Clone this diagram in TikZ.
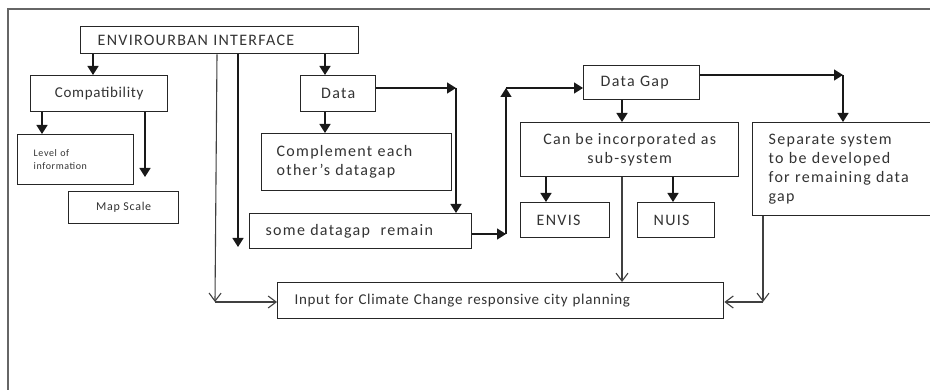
\documentclass[tikz,border=0pt]{standalone}
\usepackage{fontspec}
\setmainfont{Carlito}[LetterSpace=8]
\usetikzlibrary{arrows.meta,calc}
\begin{document}
\begin{tikzpicture}[x=1pt,y=-1pt,
  box/.style={draw=black!85, line width=1.4pt, anchor=north west, inner ysep=0pt,
              font=\fontsize{16}{19}\selectfont, text=black!80},
  lbox/.style n args={4}{box, minimum width=#1pt, minimum height=#2pt, inner xsep=#3pt, text width=#4pt, align=left},
  cbox/.style n args={2}{box, minimum width=#1pt, minimum height=#2pt, align=center},
  tight/.style={font=\fontsize{15}{19}\selectfont\addfontfeature{LetterSpace=4.5}},
  small/.style={font=\fontsize{#1}{13}\selectfont\addfontfeature{LetterSpace=6}},
  arr/.style={draw=black!90, line width=1.4pt, -{Triangle[width=11pt,length=9pt]}},
  thin/.style={draw=black!75, line width=1.1pt, -{Straight Barb[width=12pt,length=8pt]}},
  frame/.style={draw=black!60, line width=2pt},
]
\clip (0,0) rectangle (930,390);
\fill[white] (0,0) rectangle (930,390);

% outer frame (top and left edges)
\draw[frame] (8,390) -- (8,9) -- (932,9);

% boxes
\node[lbox={278}{27}{17}{244}] (env) at (80,26) {ENVIROURBAN INTERFACE};
\node[cbox={137}{36}, tight] (comp) at (30,75) {Compatibility};
\node[cbox={75}{36}] (data) at (300,75) {Data};
\node[lbox={116}{50}{16}{84}, small=10] (level) at (17,134) {Level of\\information};
\node[cbox={110}{32}, small=12] (map) at (68,191) {Map Scale};
\node[lbox={190}{57}{15}{160}] (compl) at (261,133) {Complement each\\other's datagap};
\node[lbox={222}{35}{16}{190}] (remain) at (249,213) {some datagap \ remain};
\node[lbox={446}{36}{17}{412}, tight] (input) at (277,282) {Input for Climate Change responsive city planning};
\node[lbox={116}{34}{17}{82}] (gap) at (583,65) {Data Gap};
\node[cbox={218}{54}] (canbe) at (520,122) {Can be incorporated as\\sub-system};
\node[lbox={183}{93}{16}{151}] (sep) at (752,122) {Separate system\\ to be developed\\for remaining data\\gap};
\node[lbox={89}{35}{16}{57}] (envis) at (520,202) {ENVIS};
\node[lbox={77}{35}{16}{45}] (nuis) at (637,202) {NUIS};

% bend points and free ends
\coordinate (mapEnd) at (145,177);
\coordinate (leftEnd) at (238,247);
\coordinate (leftV) at (215,302);
\coordinate (dR) at (456,88);
\coordinate (rR) at (506,234);
\coordinate (rU) at (506,88);
\coordinate (gR) at (843,75);
\coordinate (sV) at (763,302);

% connectors
\draw[arr] (93,0 |- env.south) -- (93,0 |- comp.north);
\draw[arr] (325,0 |- env.south) -- (325,0 |- data.north);
\draw[thin] (217,0 |- env.south) -- (leftV);
\draw[thin] (leftV) -- (leftV -| input.west);
\draw[arr] (leftEnd |- env.south) -- (leftEnd);
\draw[arr] (42,0 |- comp.south) -- (42,0 |- level.north);
\draw[arr] (mapEnd |- comp.south) -- (mapEnd);
\draw[arr] (325,0 |- data.south) -- (325,0 |- compl.north);
\draw[arr] (dR -| data.east) -- (dR);
\draw[arr] (dR) -- (dR |- remain.north);
\draw[arr] (rR -| remain.east) -- (rR);
\draw[arr] (rR) -- (rU);
\draw[arr] (rU) -- (rU -| gap.west);
\draw[arr] (622,0 |- gap.south) -- (622,0 |- canbe.north);
\draw[arr] (gR -| gap.east) -- (gR);
\draw[arr] (gR) -- (gR |- sep.north);
\draw[arr] (546,0 |- canbe.south) -- (546,0 |- envis.north);
\draw[arr] (673,0 |- canbe.south) -- (673,0 |- nuis.north);
\draw[thin] (622,0 |- canbe.south) -- (622,0 |- input.north);
\draw[thin] (sV |- sep.south) -- (sV);
\draw[thin] (sV) -- (sV -| input.east);
\end{tikzpicture}
\end{document}
